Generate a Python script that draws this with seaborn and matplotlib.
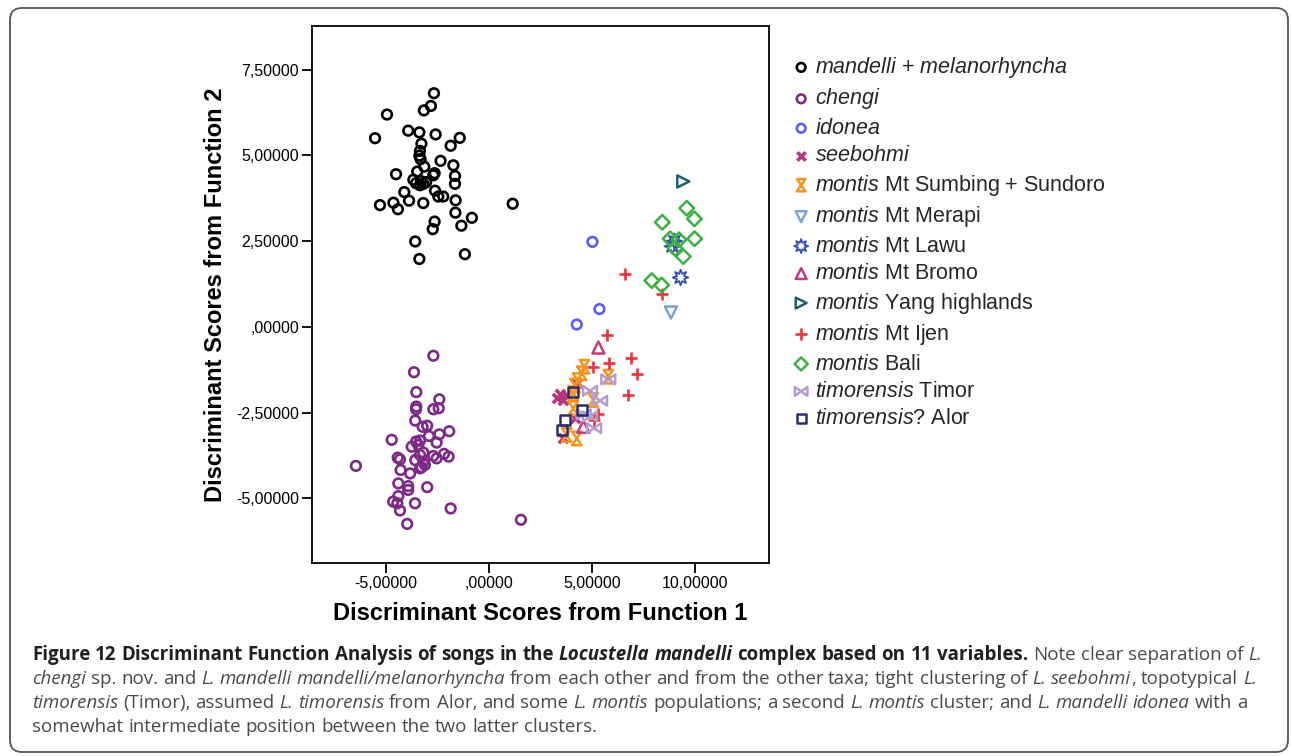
import re
import numpy as np
import pandas as pd
import matplotlib
matplotlib.use("Agg")
import matplotlib.pyplot as plt
from matplotlib.path import Path
from matplotlib.patches import FancyBboxPatch
from matplotlib.ticker import FixedLocator, FixedFormatter
import seaborn as sns

# ---------------- data ----------------
mandelli_x = [-2.67, -2.82, -3.16, -4.95, -5.53, -3.92, -3.38, -2.59, -1.42, -1.86, -3.28, -3.35,
              -3.38, -3.32, -2.35, -1.73, -3.14, -4.51, -3.48, -2.64, -2.70, -1.65, -3.67, -3.54,
              -3.19, -3.35, -1.65, -2.62, -4.11, -2.46, -2.22, -3.88, -3.19, -1.62, -5.29, -4.64,
              -4.42, -1.63, -0.83, -2.64, -2.73, -1.34, -3.58, -3.38, -1.17, 1.15, -3.30, -3.05]
mandelli_y = [6.81, 6.44, 6.31, 6.19, 5.50, 5.72, 5.67, 5.61, 5.51, 5.28, 5.34, 5.13,
              4.99, 4.89, 4.84, 4.71, 4.67, 4.45, 4.53, 4.48, 4.42, 4.40, 4.29, 4.19,
              4.17, 4.13, 4.17, 3.97, 3.93, 3.80, 3.80, 3.68, 3.61, 3.69, 3.55, 3.62,
              3.43, 3.33, 3.18, 3.07, 2.85, 2.95, 2.49, 1.98, 2.12, 3.59, 4.25, 4.22]

chengi_x = [-2.70, -3.64, -3.53, -2.41, -3.53, -3.54, -2.70, -2.44, -3.58, -3.22, -3.00, -1.93,
            -2.41, -4.72, -3.54, -3.35, -2.91, -2.54, -3.75, -3.43, -3.19, -2.70, -2.54, -2.18,
            -1.96, -4.43, -4.32, -3.58, -3.35, -3.19, -3.11, -6.46, -4.29, -3.83, -3.35, -3.27,
            -4.40, -3.92, -3.92, -3.00, -4.40, -4.65, -4.45, -4.32, -3.59, -1.86, -3.97, 1.55]
chengi_y = [-0.84, -1.32, -1.90, -2.11, -2.32, -2.40, -2.40, -2.37, -2.73, -2.91, -2.88, -3.04,
            -3.13, -3.29, -3.34, -3.31, -3.18, -3.37, -3.49, -3.44, -3.66, -3.76, -3.83, -3.70,
            -3.78, -3.81, -3.86, -3.88, -3.73, -3.93, -4.02, -4.05, -4.17, -4.27, -4.12, -4.09,
            -4.56, -4.64, -4.75, -4.67, -4.93, -5.09, -5.14, -5.35, -5.14, -5.29, -5.74, -5.62]

idonea_x = [5.02, 5.36, 4.26]
idonea_y = [2.48, 0.52, 0.07]

seebohmi_x = [3.29, 3.61, 3.74, 4.26, 4.17, 3.61, 3.45]
seebohmi_y = [-2.08, -2.13, -1.98, -1.64, -2.66, -3.25, -1.95]

sumbing_x = [4.63, 4.50, 5.79, 4.17, 4.09, 5.06, 4.09, 3.77, 4.26, 4.30]
sumbing_y = [-1.16, -1.35, -1.45, -1.71, -1.93, -2.13, -2.37, -3.15, -3.25, -1.55]

merapi_x = [8.83]
merapi_y = [0.42]

lawu_x = [9.00, 8.90, 9.30]
lawu_y = [2.50, 2.35, 1.44]

bromo_x = [5.31, 4.58]
bromo_y = [-0.60, -2.91]

yang_x = [9.43]
yang_y = [4.24]

ijen_x = [6.62, 8.41, 5.71, 6.88, 5.83, 5.06, 7.20, 6.75, 5.31, 5.10]
ijen_y = [1.55, 0.96, -0.23, -0.91, -1.06, -1.16, -1.37, -1.99, -2.54, -2.70]

bali_x = [8.41, 9.60, 9.97, 9.98, 8.79, 9.22, 9.03, 9.43, 7.90, 8.38]
bali_y = [3.05, 3.46, 3.15, 2.57, 2.57, 2.54, 2.29, 2.05, 1.35, 1.22]

timor_x = [5.79, 4.90, 5.39, 4.90, 5.10, 4.60]
timor_y = [-1.53, -1.86, -2.15, -2.61, -2.95, -2.55]

alor_x = [4.09, 4.50, 3.69, 3.53]
alor_y = [-1.89, -2.42, -2.71, -3.00]

x_ticks = [-5, 0, 5, 10]
x_tick_labels = ["-5,00000", ",00000", "5,00000", "10,00000"]
y_ticks = [-5, -2.5, 0, 2.5, 5, 7.5]
y_tick_labels = ["-5,00000", "-2,50000", ",00000", "2,50000", "5,00000", "7,50000"]

x_label = "Discriminant Scores from Function 1"
y_label = "Discriminant Scores from Function 2"

# ---------------- marker shapes ----------------
hourglass = Path([(-0.7, 1), (0.7, 1), (-0.7, -1), (0.7, -1), (-0.7, 1)],
                 [Path.MOVETO, Path.LINETO, Path.LINETO, Path.LINETO, Path.CLOSEPOLY])
bowtie = Path([(-1, 0.7), (-1, -0.7), (1, 0.7), (1, -0.7), (-1, 0.7)],
              [Path.MOVETO, Path.LINETO, Path.LINETO, Path.LINETO, Path.CLOSEPOLY])
ang = np.linspace(np.pi / 2, np.pi / 2 + 2 * np.pi, 17)[:-1]
rad = np.where(np.arange(16) % 2 == 0, 1.0, 0.5)
star_v = np.column_stack([rad * np.cos(ang), rad * np.sin(ang)])
star_v = np.vstack([star_v, star_v[:1]])
star8 = Path(star_v, [Path.MOVETO] + [Path.LINETO] * 15 + [Path.CLOSEPOLY])

# group: (key, legend label, x, y, color, marker, size, open, lw)
groups = [
    ("mandelli", r"$\it{mandelli}$ + $\it{melanorhyncha}$", mandelli_x, mandelli_y, "#000000", "o", 48, True, 1.9),
    ("chengi", r"$\it{chengi}$", chengi_x, chengi_y, "#7d2a86", "o", 48, True, 1.9),
    ("idonea", r"$\it{idonea}$", idonea_x, idonea_y, "#5c5cff", "o", 48, True, 1.9),
    ("seebohmi", r"$\it{seebohmi}$", seebohmi_x, seebohmi_y, "#b3397c", "x", 45, False, 2.6),
    ("sumbing", r"$\it{montis}$ Mt Sumbing + Sundoro", sumbing_x, sumbing_y, "#f7941d", hourglass, 95, True, 1.8),
    ("merapi", r"$\it{montis}$ Mt Merapi", merapi_x, merapi_y, "#7aa5d2", "v", 75, True, 1.8),
    ("lawu", r"$\it{montis}$ Mt Lawu", lawu_x, lawu_y, "#3450a8", star8, 125, True, 1.3),
    ("bromo", r"$\it{montis}$ Mt Bromo", bromo_x, bromo_y, "#c23d80", "^", 75, True, 1.8),
    ("yang", r"$\it{montis}$ Yang highlands", yang_x, yang_y, "#1d5e74", ">", 75, True, 1.8),
    ("ijen", r"$\it{montis}$ Mt Ijen", ijen_x, ijen_y, "#f0323c", "+", 80, False, 1.9),
    ("bali", r"$\it{montis}$ Bali", bali_x, bali_y, "#3cb043", "D", 55, True, 1.8),
    ("timor", r"$\it{timorensis}$ Timor", timor_x, timor_y, "#b49bd2", bowtie, 100, True, 1.8),
    ("alor", r"$\it{timorensis}$? Alor", alor_x, alor_y, "#2b2f70", "s", 55, True, 1.8),
]

df = pd.concat([pd.DataFrame({"f1": g[2], "f2": g[3], "group": g[0]}) for g in groups],
               ignore_index=True)

# ---------------- style ----------------
sns.set_style("white")
plt.rcParams["font.family"] = ["Liberation Sans", "DejaVu Sans"]
plt.rcParams["mathtext.fontset"] = "custom"
plt.rcParams["mathtext.rm"] = "Liberation Sans"
plt.rcParams["mathtext.it"] = "Liberation Sans:italic"
plt.rcParams["mathtext.bf"] = "Liberation Sans:bold"

W, H = 1292, 756
fig = plt.figure(figsize=(W / 100, H / 100), dpi=100)
fig.patch.set_facecolor("white")
ax = fig.add_axes([312 / W, 1 - 563 / H, (769 - 312) / W, (563 - 26) / H])

for key, label, gx, gy, col, mk, s, is_open, lw in groups:
    sub = df[df["group"] == key]
    kw = dict(color=col, marker=mk, s=s, linewidth=lw, label=label)
    if is_open:
        kw.update(facecolor="none", edgecolor=col)
    sns.scatterplot(data=sub, x="f1", y="f2", ax=ax, legend=False, **kw)

ax.set_xlim(-8.59, 13.59)
ax.set_ylim(-6.88, 8.77)
ax.xaxis.set_major_locator(FixedLocator(x_ticks))
ax.xaxis.set_major_formatter(FixedFormatter(x_tick_labels))
ax.yaxis.set_major_locator(FixedLocator(y_ticks))
ax.yaxis.set_major_formatter(FixedFormatter(y_tick_labels))
ax.tick_params(axis="both", which="major", bottom=True, left=True, top=False, right=False,
               direction="out", length=7.5, width=1.3, colors="black", labelsize=11.5, pad=2)
for sp in ax.spines.values():
    sp.set_visible(True)
    sp.set_color("black")
    sp.set_linewidth(1.3)

ax.set_xlabel(x_label, fontsize=17, fontweight="bold", color="black")
ax.set_ylabel(y_label, fontsize=17, fontweight="bold", color="black")
ax.xaxis.set_label_coords(0.5, -0.072)
ax.yaxis.set_label_coords(-0.187, 0.5)

handles, labels = ax.get_legend_handles_labels()
leg = fig.legend(handles, labels, loc="upper left", bbox_to_anchor=(792 / W, 1 - 55 / H),
                 frameon=False, fontsize=15.5, handlelength=0.85, handletextpad=0.2,
                 labelspacing=0.30, borderpad=0, borderaxespad=0, markerscale=0.9)

# ---------------- frame ----------------
frame = FancyBboxPatch((0.10, 0.04), 12.78, 7.44, boxstyle="round,pad=0,rounding_size=0.12",
                       transform=fig.dpi_scale_trans, facecolor="none",
                       edgecolor="#555555", linewidth=1.3, zorder=0)
fig.patches.append(frame)

# ---------------- caption ----------------
cap_lines = [
    [("Figure 12 Discriminant Function Analysis of songs in the ", "b"),
     ("Locustella mandelli", "bi"),
     (" complex based on 11 variables.", "b"),
     (" Note clear separation of ", "r"), ("L.", "i")],
    [("chengi", "i"), (" sp. nov. and ", "r"), ("L. mandelli mandelli/melanorhyncha", "i"),
     (" from each other and from the other taxa; tight clustering of ", "r"),
     ("L. seebohmi", "i"), (", topotypical ", "r"), ("L.", "i")],
    [("timorensis", "i"), (" (Timor), assumed ", "r"), ("L. timorensis", "i"),
     (" from Alor, and some ", "r"), ("L. montis", "i"), (" populations; a second ", "r"),
     ("L. montis", "i"), (" cluster; and ", "r"), ("L. mandelli idonea", "i"), (" with a", "r")],
    [("somewhat intermediate position between the two latter clusters.", "r")],
]
cap_baselines = [660, 684, 708, 732]
cap_family = ["Open Sans", "DejaVu Sans"]

renderer = fig.canvas.get_renderer()


def style_kw(st, size):
    return dict(fontsize=size, family=cap_family,
                fontweight="bold" if "b" in st else "normal",
                fontstyle="italic" if "i" in st else "normal",
                color="#231f20" if "b" in st else "#4a4a4a")


def raw_width(s, st, size):
    t = fig.text(0, 0, s, **style_kw(st, size))
    w = t.get_window_extent(renderer).width
    t.remove()
    return w


def text_width(s, st, size):
    # advance width: bracket the string between two upright bars
    return raw_width("|" + s + "|", st, size) - raw_width("||", st, size)


def space_width(st, size):
    return raw_width("| |", st, size) - raw_width("||", st, size)


def draw_line(runs, x0, ybase, size, draw=True):
    x = x0
    for txt, st in runs:
        sw = space_width(st, size)
        for piece in re.split(r"( )", txt):
            if piece == "":
                continue
            if piece == " ":
                x += sw
                continue
            if draw:
                fig.text(x / W, 1 - ybase / H, piece, ha="left", va="baseline",
                         **style_kw(st, size))
            x += text_width(piece, st, size)
    return x - x0


base_size = 12.0
w1 = draw_line(cap_lines[0], 32, 0, base_size, draw=False)
cap_size = base_size * (1225.0 / w1)
for runs, yb in zip(cap_lines, cap_baselines):
    draw_line(runs, 32, yb, cap_size)

fig.savefig("out.png", dpi=100, facecolor="white")
